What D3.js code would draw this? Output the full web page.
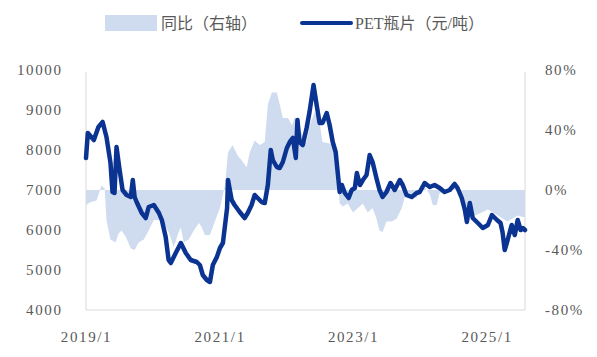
<!DOCTYPE html>
<html>
<head>
<meta charset="utf-8">
<script src="https://cdn.jsdelivr.net/npm/d3@7"></script>
<style>
  body { margin: 0; background: #ffffff; }
  svg { display: block; }
  .tick text { font-family: "Liberation Serif", "Times New Roman", serif; font-size: 15px; fill: #595959; letter-spacing: 1.6px; }
  .legend text { font-family: "Liberation Serif", "Noto Sans CJK SC", serif; font-size: 16px; fill: #595959; }
</style>
</head>
<body>
<svg id="chart" width="597" height="357"></svg>
<script>
// ---- data ----
const seriesNames = ["同比（右轴）", "PET瓶片（元/吨）"];

const petDates = ["2019-01-01","2019-01-11","2019-02-13","2019-03-10","2019-04-02","2019-04-23","2019-05-15","2019-05-26","2019-06-06","2019-06-17","2019-07-04","2019-07-20","2019-08-11","2019-09-03","2019-09-14","2019-09-24","2019-10-05","2019-11-02","2019-11-24","2019-12-10","2020-01-07","2020-02-04","2020-02-20","2020-03-12","2020-03-28","2020-04-09","2020-05-06","2020-06-03","2020-06-30","2020-07-27","2020-08-29","2020-09-15","2020-10-01","2020-10-23","2020-11-09","2020-11-25","2020-12-17","2021-01-03","2021-01-19","2021-02-11","2021-02-16","2021-03-08","2021-03-24","2021-04-21","2021-05-18","2021-06-04","2021-06-25","2021-07-12","2021-07-28","2021-08-19","2021-09-05","2021-09-22","2021-10-08","2021-10-19","2021-11-10","2021-11-26","2021-12-13","2022-01-04","2022-01-20","2022-02-06","2022-02-22","2022-03-03","2022-03-14","2022-04-01","2022-04-22","2022-05-08","2022-05-30","2022-06-16","2022-07-02","2022-07-18","2022-08-10","2022-08-26","2022-09-12","2022-09-28","2022-10-09","2022-10-20","2022-11-01","2022-11-17","2022-12-08","2022-12-25","2023-01-11","2023-01-22","2023-02-08","2023-02-24","2023-03-16","2023-04-02","2023-04-18","2023-05-09","2023-05-26","2023-06-12","2023-07-03","2023-07-25","2023-08-17","2023-09-14","2023-09-30","2023-10-21","2023-11-18","2023-12-15","2024-01-01","2024-01-28","2024-02-25","2024-03-22","2024-04-19","2024-05-16","2024-06-13","2024-07-10","2024-07-26","2024-08-18","2024-09-04","2024-09-15","2024-10-01","2024-10-17","2024-11-14","2024-12-11","2025-01-08","2025-01-30","2025-02-27","2025-03-18","2025-03-29","2025-04-10","2025-04-26","2025-05-18","2025-06-04","2025-06-20","2025-07-06","2025-07-18","2025-07-30"];
const petValues = [7800,8425,8250,8575,8700,8325,7675,6950,6925,8075,7500,7000,6875,6825,7250,6825,6700,6425,6300,6575,6625,6425,6250,5825,5250,5175,5425,5675,5425,5250,5200,5125,4875,4750,4700,5125,5325,5550,5675,6550,7250,6750,6625,6450,6300,6425,6625,6875,6800,6700,6675,7125,8000,7750,7575,7550,7700,8050,8200,8300,7800,8750,8200,8125,8550,8950,9625,9125,8675,8675,8925,8625,8200,7950,7450,6950,7125,6925,6800,7000,7050,7425,7125,7250,7375,7875,7700,7300,7000,6825,6950,7175,7000,7250,7125,6875,6825,6925,6950,7175,7075,7125,7050,6950,7000,7150,7050,6800,6500,6200,6675,6300,6175,6050,6125,6375,6250,6175,5950,5500,5750,6125,5875,6250,6000,6050,6000];

const yoyDates = ["2019-01-01","2019-01-28","2019-02-28","2019-03-27","2019-04-13","2019-04-23","2019-05-15","2019-06-12","2019-06-28","2019-07-15","2019-08-06","2019-09-03","2019-09-24","2019-10-16","2019-11-13","2019-12-10","2020-01-07","2020-02-04","2020-03-01","2020-03-28","2020-04-25","2020-05-22","2020-06-03","2020-06-19","2020-07-16","2020-08-13","2020-09-10","2020-09-26","2020-10-12","2020-11-09","2020-12-06","2021-01-03","2021-01-30","2021-02-16","2021-03-13","2021-04-10","2021-05-07","2021-05-29","2021-06-15","2021-07-12","2021-08-09","2021-09-05","2021-09-22","2021-10-14","2021-11-10","2021-11-26","2021-12-13","2022-01-10","2022-02-01","2022-02-17","2022-03-03","2022-03-25","2022-04-22","2022-05-08","2022-06-05","2022-07-02","2022-07-18","2022-08-26","2022-09-12","2022-10-04","2022-10-09","2022-10-20","2022-11-06","2022-12-03","2023-01-01","2023-01-28","2023-02-24","2023-03-22","2023-04-18","2023-05-09","2023-05-26","2023-06-12","2023-07-03","2023-08-01","2023-08-28","2023-09-25","2023-10-11","2023-11-18","2023-12-15","2024-01-01","2024-01-28","2024-02-25","2024-03-12","2024-04-03","2024-04-19","2024-05-16","2024-06-13","2024-07-10","2024-07-26","2024-08-18","2024-09-04","2024-10-01","2024-10-28","2024-12-06","2025-01-08","2025-02-05","2025-03-02","2025-03-29","2025-04-26","2025-05-23","2025-06-20","2025-07-17","2025-07-30"];
const yoyValues = [-10,-8,-7,3,1,-20,-33,-35,-29,-27,-31,-39,-40,-35,-33,-27,-20,-20,-22,-28,-38,-28,-25,-35,-33,-27,-22,-25,-30,-30,-21,-12,3,25,30,23,19,15,25,33,30,32,57,65,65,57,48,48,43,49,45,38,32,43,52,45,32,31,30,23,10,-9,-11,-9,-15,-12,-9,-15,-12,-19,-27,-28,-21,-21,-19,-12,-5,-5,-5,-1,2,-3,-10,-10,-2,-1,0,2,0,-7,-12,-13,-17,-15,-13,-15,-17,-19,-21,-19,-17,-18,-18];

const leftTicks = [4000, 5000, 6000, 7000, 8000, 9000, 10000];
const rightTicks = [-80, -40, 0, 40, 80];
const xTicks = ["2019-01-01", "2021-01-01", "2023-01-01", "2025-01-01"];

// ---- chart ----
const parse = d3.timeParse("%Y-%m-%d");
const pet = petDates.map((d, i) => ({ date: parse(d), value: petValues[i] }));
const yoy = yoyDates.map((d, i) => ({ date: parse(d), value: yoyValues[i] }));

const plot = { left: 86, right: 525, top: 70, bottom: 310 };
const svg = d3.select("#chart");

const x = d3.scaleTime()
  .domain([parse("2019-01-01"), parse("2025-07-30")])
  .range([plot.left, plot.right]);
const yL = d3.scaleLinear().domain([4000, 10000]).range([plot.bottom, plot.top]);
const yR = d3.scaleLinear().domain([-80, 80]).range([plot.bottom, plot.top]);

const lineColor = "#0b3392";
const areaColor = "#cfdcef";
const frameColor = "#d9d9d9";

// area (yoy, right axis)
svg.append("path")
  .datum(yoy)
  .attr("fill", areaColor)
  .attr("d", d3.area()
    .x(d => x(d.date))
    .y0(yR(0))
    .y1(d => yR(d.value)));

// frame
svg.append("line").attr("x1", plot.left).attr("x2", plot.left).attr("y1", plot.top + 2).attr("y2", plot.bottom)
  .attr("stroke", frameColor).attr("stroke-width", 1);
svg.append("line").attr("x1", plot.right).attr("x2", plot.right).attr("y1", plot.top + 2).attr("y2", plot.bottom)
  .attr("stroke", frameColor).attr("stroke-width", 1);
svg.append("line").attr("x1", plot.left).attr("x2", plot.right).attr("y1", plot.bottom).attr("y2", plot.bottom)
  .attr("stroke", frameColor).attr("stroke-width", 1);

// PET line
svg.append("path")
  .datum(pet)
  .attr("fill", "none")
  .attr("stroke", lineColor)
  .attr("stroke-width", 4.5)
  .attr("stroke-linejoin", "round")
  .attr("stroke-linecap", "round")
  .attr("d", d3.line().x(d => x(d.date)).y(d => yL(d.value)));

// axes
const gL = svg.append("g").attr("transform", `translate(${plot.left},0)`)
  .call(d3.axisLeft(yL).tickValues(leftTicks).tickSize(0).tickPadding(23.5).tickFormat(d3.format("d")));
const gR = svg.append("g").attr("transform", `translate(${plot.right},0)`)
  .call(d3.axisRight(yR).tickValues(rightTicks).tickSize(0).tickPadding(20).tickFormat(d => d + "%"));
const gX = svg.append("g").attr("transform", `translate(0,${plot.bottom})`)
  .call(d3.axisBottom(x).tickValues(xTicks.map(parse)).tickSize(0).tickPadding(21).tickFormat(d3.timeFormat("%Y/%-m")));
[gL, gR, gX].forEach(g => g.select(".domain").remove());

// legend
const lg = svg.append("g").attr("class", "legend");
lg.append("rect").attr("x", 105).attr("y", 15).attr("width", 52).attr("height", 16).attr("fill", areaColor);
lg.append("text").attr("x", 161).attr("y", 29).text(seriesNames[0]);
lg.append("line").attr("x1", 302).attr("x2", 351).attr("y1", 23).attr("y2", 23)
  .attr("stroke", lineColor).attr("stroke-width", 4).attr("stroke-linecap", "round");
lg.append("text").attr("x", 355).attr("y", 29).text(seriesNames[1]);
</script>
</body>
</html>
